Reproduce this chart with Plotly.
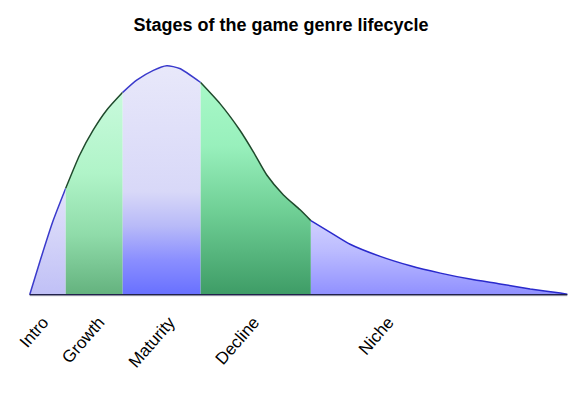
import plotly.graph_objects as go

# Curve of genre popularity over time
time = [0, 1.9, 4.3, 6.7, 9.3, 11.8, 14.3, 17.3, 19.9, 23.0, 25.5, 27.9,
        31.8, 35.4, 39.1, 41.6, 44.1, 47.2, 50.3, 52.3, 55.9, 59.6, 65.2,
        70.8, 76.4, 81.9, 87.5, 93.1, 98.7, 100]
interest = [0, 14.5, 31.9, 46.4, 60.9, 71.7, 80.4, 88.2, 93.5, 97.8, 99.8, 98.6,
            92.5, 83.3, 71.7, 62.3, 52.2, 43.5, 37.0, 32.3, 27.2, 22.0, 16.7,
            12.6, 9.4, 6.8, 4.7, 2.5, 0.7, 0.2]

# Stage boundaries (start, end) and names
stages = ["Intro", "Growth", "Maturity", "Decline", "Niche"]
stage_start = [0, 6.7, 17.3, 31.8, 52.3]
stage_end = [6.7, 17.3, 31.8, 52.3, 100]
label_pos = [2.5, 12.9, 26.0, 41.7, 66.7]

# Styles
line_colors = ["#3a3acc", "#1f4a2c", "#3a3acc", "#1f4a2c", "#2a2acc"]
gradients = [
    [[0, "#c0c0f6"], [0.5, "#d2d2f8"], [1, "#e2e2fa"]],
    [[0, "#64b27e"], [0.3, "#90dcaa"], [0.6, "#b0f4c8"], [1, "#c8fadc"]],
    [[0, "#6870ff"], [0.15, "#8a8eff"], [0.3, "#b8baf8"], [0.45, "#d8d8f8"], [1, "#e8e8fa"]],
    [[0, "#3e9c66"], [0.4, "#70d096"], [0.7, "#98f0bc"], [1, "#a8f8c8"]],
    [[0, "#9090ff"], [0.6, "#bcbcff"], [1, "#d0d0ff"]],
]

fig = go.Figure()

for i, name in enumerate(stages):
    xs = [t for t in time if stage_start[i] <= t <= stage_end[i]]
    ys = [v for t, v in zip(time, interest) if stage_start[i] <= t <= stage_end[i]]
    fig.add_trace(go.Scatter(
        x=xs, y=ys, mode="lines", fill="tozeroy",
        line=dict(color=line_colors[i], width=1.5, shape="spline", smoothing=0.6),
        fillgradient=dict(type="vertical", colorscale=gradients[i], start=0),
        hoverinfo="skip", showlegend=False,
    ))

# baseline
fig.add_trace(go.Scatter(
    x=[time[0], time[-1]], y=[0, 0], mode="lines",
    line=dict(color="#22224a", width=1.5), hoverinfo="skip", showlegend=False,
))

# soft shadow under baseline
fig.add_shape(type="rect", xref="x", yref="y", x0=time[0], x1=time[-1], y0=-3.2, y1=-0.4,
              fillcolor="rgba(0,0,0,0.06)", line=dict(width=0), layer="below")

# the page body adds an 8px offset; margins compensate for it
fig.update_layout(
    width=580, height=398,
    margin=dict(l=19, r=18, t=55, b=109, autoexpand=False),
    paper_bgcolor="white", plot_bgcolor="white",
    font=dict(family="Liberation Sans, Arial, sans-serif", color="#000"),
    title=dict(text="<b>Stages of the game genre lifecycle</b>", x=273/580, xref="container",
               xanchor="center", y=1 - 17/398, yanchor="middle", automargin=False,
               font=dict(size=18, color="#000")),
    xaxis=dict(range=[-0.5, 100.5], showgrid=False, zeroline=False, showline=False,
               automargin=False,
               tickmode="array", tickvals=label_pos, ticktext=stages, tickangle=-49,
               tickfont=dict(size=17, color="#000"), ticks="", ticklabelstandoff=11),
    yaxis=dict(range=[-1, 101], visible=False, automargin=False),
)

fig.write_html("out.html")
